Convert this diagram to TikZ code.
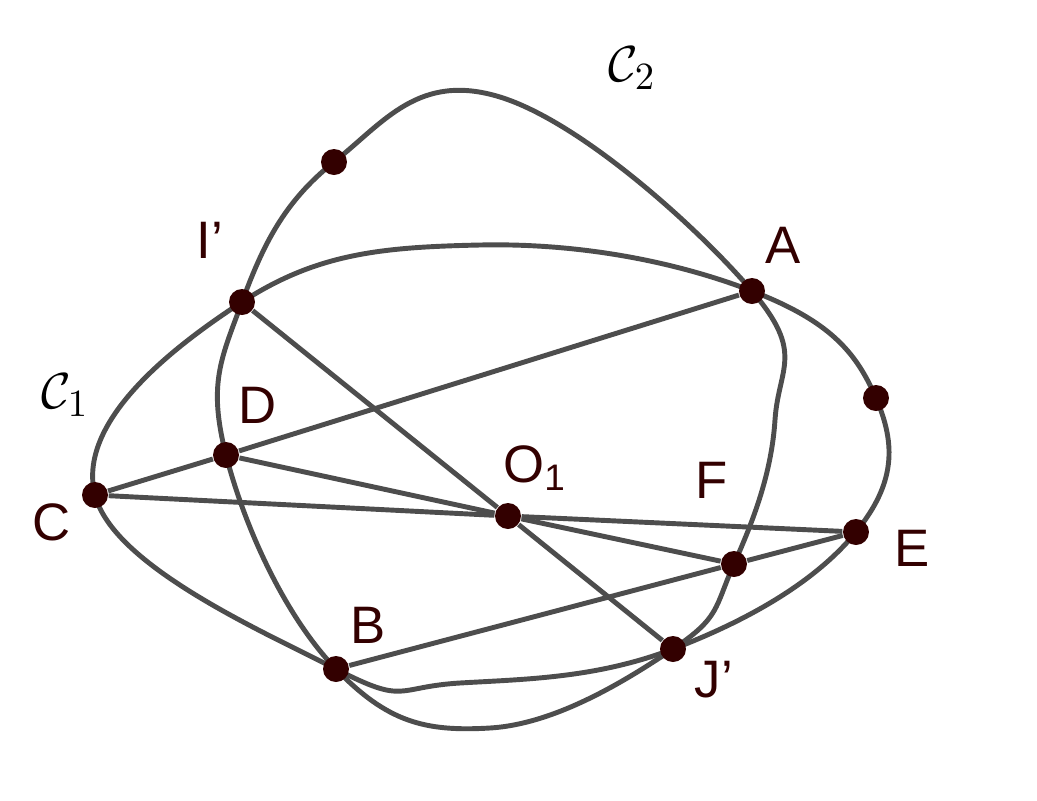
\documentclass[tikz,border=0pt]{standalone}
\usepackage{fontspec}
\setsansfont{Liberation Sans}
\definecolor{ptcol}{HTML}{330000}
\definecolor{lncol}{HTML}{4D4D4D}
\begin{document}
\begin{tikzpicture}[x=0.1mm,y=-0.1mm]
      \useasboundingbox (0,0) rectangle (1037,801);
      \begin{scope}[line width=1.4pt,draw=lncol]
        \draw plot[smooth cycle,tension=0.7] coordinates {(95,495) (242,302) (480,245) (752,291) (876,398) (856,532) (673,649) (460,683) (336,669)};
        \draw plot[smooth cycle,tension=0.7] coordinates {(334,162) (500,97) (752,291) (775,420) (734,564) (673,649) (490,728) (336,669) (226,455) (242,302)};
      \end{scope}
      \begin{scope}[every node/.style={circle,fill=ptcol,inner sep=0pt,minimum size=0.26cm}]
        \node (C) at (95,495) {};
        \node (D) at (226,455) {};
        \node (I) at (242,302) {};
        \node (A) at (752,291) {};
        \node (P) at (876,398) {};
        \node (E) at (856,532) {};
        \node (F) at (734,564) {};
        \node (J) at (673,649) {};
        \node (B) at (336,669) {};
        \node (O) at (508,516) {};
        \node (Q) at (334,162) {};
      \end{scope}
      \begin{scope}[every edge/.style={draw,line width=1.4pt,lncol}]
        \path (C) edge (D);
        \path (D) edge (A);
        \path (C) edge (O);
        \path (O) edge (E);
        \path (D) edge (O);
        \path (I) edge (O);
        \path (O) edge (J);
        \path (O) edge (F);
        \path (B) edge (F);
        \path (F) edge (E);
      \end{scope}
      \begin{scope}[every node/.style={text=ptcol,font=\sffamily\fontsize{15}{18}\selectfont}]
        \node at (210,240) {I'};
        \node at (783,245) {A};
        \node at (258,405) {D};
        \node at (535,468) {O$_{\mathsf{1}}$};
        \node at (712,480) {F};
        \node at (52,522) {C};
        \node at (912,548) {E};
        \node at (368,625) {B};
        \node at (714,680) {J'};
        \node[text=black] at (632,68) {$\mathcal{C}_2$};
        \node[text=black] at (65,395) {$\mathcal{C}_1$};
      \end{scope}
    \end{tikzpicture}
\end{document}
